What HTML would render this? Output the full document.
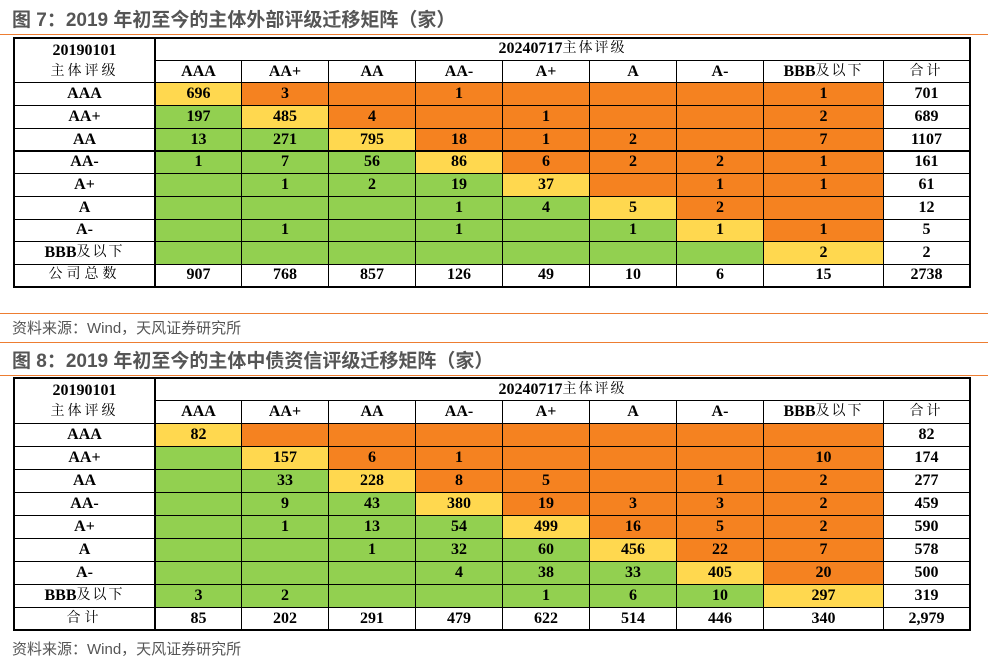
<!DOCTYPE html>
<html><head><meta charset="utf-8"><style>
body{margin:0;width:988px;height:662px;background:#fff;position:relative;overflow:hidden;font-family:"Liberation Serif","Noto Serif CJK SC",serif}
.t{position:absolute;left:12px;font-family:"Liberation Sans","Noto Sans CJK SC",sans-serif;font-weight:bold;font-size:19px;color:#555}
.src{position:absolute;left:12px;font-family:"Liberation Sans","Noto Sans CJK SC",sans-serif;font-size:15px;color:#555}
.ol{position:absolute;left:0;width:988px;height:1px;background:#ED7D31}
.c{position:absolute;box-sizing:border-box;border:1px solid #000;display:flex;align-items:center;justify-content:center;font-weight:bold;font-size:16px;color:#000;line-height:1}
</style></head><body>
<div class="t" style="top:5px">图 7：2019 年初至今的主体外部评级迁移矩阵（家）</div>
<div class="ol" style="top:34px"></div>
<div class="ol" style="top:313px"></div>
<div class="src" style="top:317px">资料来源：Wind，天风证券研究所</div>
<div class="ol" style="top:342px"></div>
<div class="t" style="top:346px">图 8：2019 年初至今的主体中债资信评级迁移矩阵（家）</div>
<div class="ol" style="top:375px"></div>
<div class="src" style="top:638px">资料来源：Wind，天风证券研究所</div>
<div id="root"></div>
<script>
const ratings=["AAA","AA+","AA","AA-","A+","A","A-","BBB及以下"];
const t1=[["696","3","","1","","","","1","701"],["197","485","4","","1","","","2","689"],["13","271","795","18","1","2","","7","1107"],["1","7","56","86","6","2","2","1","161"],["","1","2","19","37","","1","1","61"],["","","","1","4","5","2","","12"],["","1","","1","","1","1","1","5"],["","","","","","","","2","2"]];
const t1tot=["907","768","857","126","49","10","6","15","2738"];
const t2=[["82","","","","","","","","82"],["","157","6","1","","","","10","174"],["","33","228","8","5","","1","2","277"],["","9","43","380","19","3","3","2","459"],["","1","13","54","499","16","5","2","590"],["","","1","32","60","456","22","7","578"],["","","","4","38","33","405","20","500"],["3","2","","","1","6","10","297","319"]];
const t2tot=["85","202","291","479","622","514","446","340","2,979"];
const colX=[13,155,241,328,415,502,589,676,763,883,970];
const root=document.getElementById('root');
function cell(x,y,w,h,txt,bg,name,extra){const d=document.createElement('div');d.className='c';


d.style.cssText=`left:${x}px;top:${y}px;width:${w+1}px;height:${h+1}px;background:${bg||'#fff'};${extra||''}`;d.innerHTML=txt;root.appendChild(d);}
function table(top,rowH,data,tot,totLabel,totHead,pfx){
 cell(13,top,142,rowH*2,'20190101<br><span style="font-size:14px;font-weight:normal;letter-spacing:3px">主体评级</span>','#fff',pfx+'corner-header','flex-direction:column;gap:6px;border-width:2px 2px 1px 2px');
 cell(155,top,815,rowH,'20240717<span style="font-size:14px;font-weight:normal;letter-spacing:2px">主体评级</span>','#fff',pfx+'column-group-header','border-top-width:2px;border-right-width:2px');
 const heads=ratings.map(r=>r=="BBB及以下"?'BBB<span style="font-size:14px;font-weight:normal;letter-spacing:2px">及以下</span>':r).concat([totHead]);
 heads.forEach((h,i)=>cell(colX[i+1],top+rowH,colX[i+2]-colX[i+1],rowH,h,'#fff',pfx+'col-header-'+i,i==8?'border-right-width:2px':''));
 data.forEach((row,r)=>{const y=top+rowH*(2+r);
  cell(13,y,142,rowH,heads[r],'#fff',pfx+'row-header-'+r,'border-left-width:2px;border-right-width:2px');
  row.forEach((v,c)=>{let bg='#fff';if(c<8){bg=c==r?'#FFD84F':(c>r?'#F58220':'#92D050');}
   cell(colX[c+1],y,colX[c+2]-colX[c+1],rowH,v,bg,pfx+'cell-'+r+'-'+c,c==8?'border-right-width:2px':'');});});
 const y=top+rowH*10;
 cell(13,y,142,rowH,totLabel,'#fff',pfx+'total-row-header','border-width:1px 2px 2px 2px;font-weight:normal;letter-spacing:4px;font-size:14px');
 tot.forEach((v,c)=>cell(colX[c+1],y,colX[c+2]-colX[c+1],rowH,v,'#fff',pfx+'total-'+c,'border-bottom-width:2px;'+(c==8?'border-right-width:2px':'')));
}
table(37,22.7,t1,t1tot,'公司总数','<span style="font-size:14px;font-weight:normal;letter-spacing:3px">合计</span>','t1-');
table(377,23,t2,t2tot,'合计','<span style="font-size:14px;font-weight:normal;letter-spacing:3px">合计</span>','t2-');
</script>
</body></html>
